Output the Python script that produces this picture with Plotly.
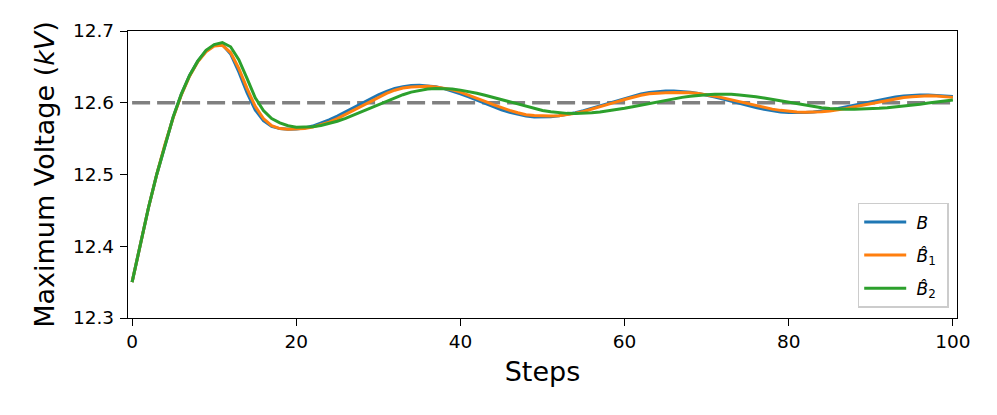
import plotly.graph_objects as go

steps = list(range(101))

B = [12.350, 12.403, 12.454, 12.500, 12.542, 12.580, 12.612, 12.638, 12.658, 12.672,
     12.680, 12.681, 12.668, 12.643, 12.614, 12.590, 12.575, 12.567, 12.564, 12.563,
     12.5634, 12.5649, 12.5675, 12.5713, 12.5760, 12.5814, 12.5873, 12.5935, 12.5997, 12.6056,
     12.6111, 12.6159, 12.6198, 12.6225, 12.6241, 12.6245,
     12.6238, 12.6222, 12.6197, 12.6164, 12.6125, 12.6082, 12.6036, 12.5990, 12.5945, 12.5903,
     12.5867, 12.5837, 12.5816, 12.5803, 12.5800,
     12.5805, 12.5817, 12.5836, 12.5861, 12.5890, 12.5923, 12.5959, 12.5995, 12.6031, 12.6065,
     12.6096, 12.6122, 12.6143, 12.6157, 12.6164, 12.6164,
     12.6158, 12.6146, 12.6128, 12.6106, 12.6080, 12.6051, 12.6020, 12.5989, 12.5960, 12.5932,
     12.5908, 12.5887, 12.5872, 12.5863, 12.5860,
     12.5863, 12.5870, 12.5882, 12.5899, 12.5919, 12.5942, 12.5966, 12.5991, 12.6016, 12.6040,
     12.6062, 12.6080, 12.6094, 12.6104, 12.6109, 12.6109, 12.6104, 12.6097, 12.6088]

B1_hat = [12.350, 12.403, 12.454, 12.500, 12.542, 12.579, 12.611, 12.637, 12.657, 12.671,
          12.679, 12.680, 12.670, 12.648, 12.620, 12.595, 12.578, 12.568, 12.564, 12.563, 12.563,
          12.5640, 12.566, 12.569, 12.573, 12.578, 12.5838, 12.5898, 12.596, 12.602, 12.6078,
          12.613, 12.6175, 12.6205, 12.622,
          12.623, 12.623, 12.622, 12.6205, 12.618, 12.6148, 12.6108, 12.6065, 12.602, 12.5975,
          12.5932, 12.5893, 12.586, 12.5834, 12.5821, 12.5816, 12.5815, 12.582, 12.5834, 12.5854,
          12.5879, 12.591, 12.5942, 12.5977, 12.6012, 12.6046, 12.6077, 12.6104, 12.6125, 12.6137,
          12.614, 12.6142, 12.6143, 12.6138, 12.6128, 12.6112, 12.6092, 12.6068, 12.6041, 12.6012,
          12.5984, 12.5957, 12.5932, 12.5911, 12.5894, 12.5880, 12.5872, 12.5868, 12.5869, 12.5875,
          12.5886, 12.5901, 12.5921, 12.5943, 12.5966, 12.5990, 12.6013, 12.6035, 12.6055, 12.6072,
          12.6084, 12.6093, 12.6097, 12.6095, 12.6085, 12.6075]

B2_hat = [12.350, 12.403, 12.454, 12.500, 12.542, 12.580, 12.612, 12.638, 12.658, 12.673,
          12.681, 12.684, 12.678, 12.660, 12.634, 12.607, 12.589, 12.578, 12.572, 12.568,
          12.566, 12.566,
          12.5667, 12.5684, 12.5709, 12.5743, 12.5783, 12.5829, 12.5879, 12.5930, 12.5975, 12.6022,
          12.6070, 12.6112, 12.6148, 12.6174, 12.6192, 12.6200,
          12.6198, 12.6190, 12.6176, 12.6157, 12.6133, 12.6105, 12.6074, 12.6042, 12.6008, 12.5976,
          12.5945, 12.5917, 12.5893, 12.5874, 12.5860, 12.5852, 12.5850,
          12.5853, 12.5860, 12.5870, 12.5885, 12.5902, 12.5922, 12.5943, 12.5966, 12.5990, 12.6013,
          12.6036, 12.6057, 12.6075, 12.6091, 12.6104, 12.6113, 12.6119, 12.6120,
          12.6117, 12.6109, 12.6098, 12.6083, 12.6065, 12.6045, 12.6024, 12.6002, 12.5981, 12.5961,
          12.5944, 12.5929, 12.5919, 12.5912, 12.5910,
          12.5911, 12.5913, 12.5917, 12.5923, 12.5931, 12.5941, 12.5953, 12.5966, 12.5980, 12.5995,
          12.6010, 12.6024, 12.6037]

reference_steps = [0, 100]
reference_level = [12.6, 12.6]

series_names = ["&nbsp;<i>B</i>&nbsp;", "&nbsp;<i>B̂</i><sub>1</sub>&nbsp;", "&nbsp;<i>B̂</i><sub>2</sub>&nbsp;"]
series_colors = ["#1f77b4", "#ff7f0e", "#2ca02c"]

x_ticks = [0, 20, 40, 60, 80, 100]
y_ticks = [12.3, 12.4, 12.5, 12.6, 12.7]

FONT = "DejaVu Sans"

fig = go.Figure()
fig.add_trace(go.Scatter(x=reference_steps, y=reference_level, mode="lines",
                         line=dict(color="#808080", width=3.5, dash="18px,7px"),
                         showlegend=False, hoverinfo="skip"))
for i, (vals, name, col) in enumerate(zip([B, B1_hat, B2_hat], series_names, series_colors)):
    fig.add_trace(go.Scatter(x=steps, y=vals, mode="lines", name=name,
                             legendgroup=f"g{i}",
                             line=dict(color=col, width=3)))

axis_common = dict(showline=True, linecolor="black", linewidth=1.3, mirror=True,
                   ticks="outside", ticklen=7, tickwidth=1.3, tickcolor="black",
                   showgrid=False, zeroline=False, automargin=False,
                   tickfont=dict(family=FONT, size=18.5, color="black"))

fig.update_xaxes(range=[-0.5, 100.5], tickvals=x_ticks,
                 title=dict(text="Steps", font=dict(family=FONT, size=27, color="black"),
                            standoff=10),
                 **axis_common)
fig.update_yaxes(range=[12.3, 12.7], tickvals=y_ticks, tickformat=".1f",
                 ticklabelstandoff=2,
                 title=dict(text="Maximum Voltage (<i>kV</i>)",
                            font=dict(family=FONT, size=27, color="black"), standoff=10),
                 **axis_common)

fig.update_layout(
    template="none",
    width=997, height=415,
    margin=dict(l=128, r=40, t=31, b=97, pad=0),
    paper_bgcolor="white", plot_bgcolor="white",
    font=dict(family=FONT, color="black"),
    showlegend=True,
    legend=dict(x=0.990, y=0.035, xanchor="right", yanchor="bottom",
                bgcolor="rgba(255,255,255,0.8)", bordercolor="#cccccc", borderwidth=1.5,
                font=dict(family=FONT, size=17, color="black"),
                tracegroupgap=8, itemwidth=42),
)

fig.write_html("out.html", config={"displayModeBar": False},
               post_script="document.body.style.margin='0';document.body.style.overflow='hidden';")
